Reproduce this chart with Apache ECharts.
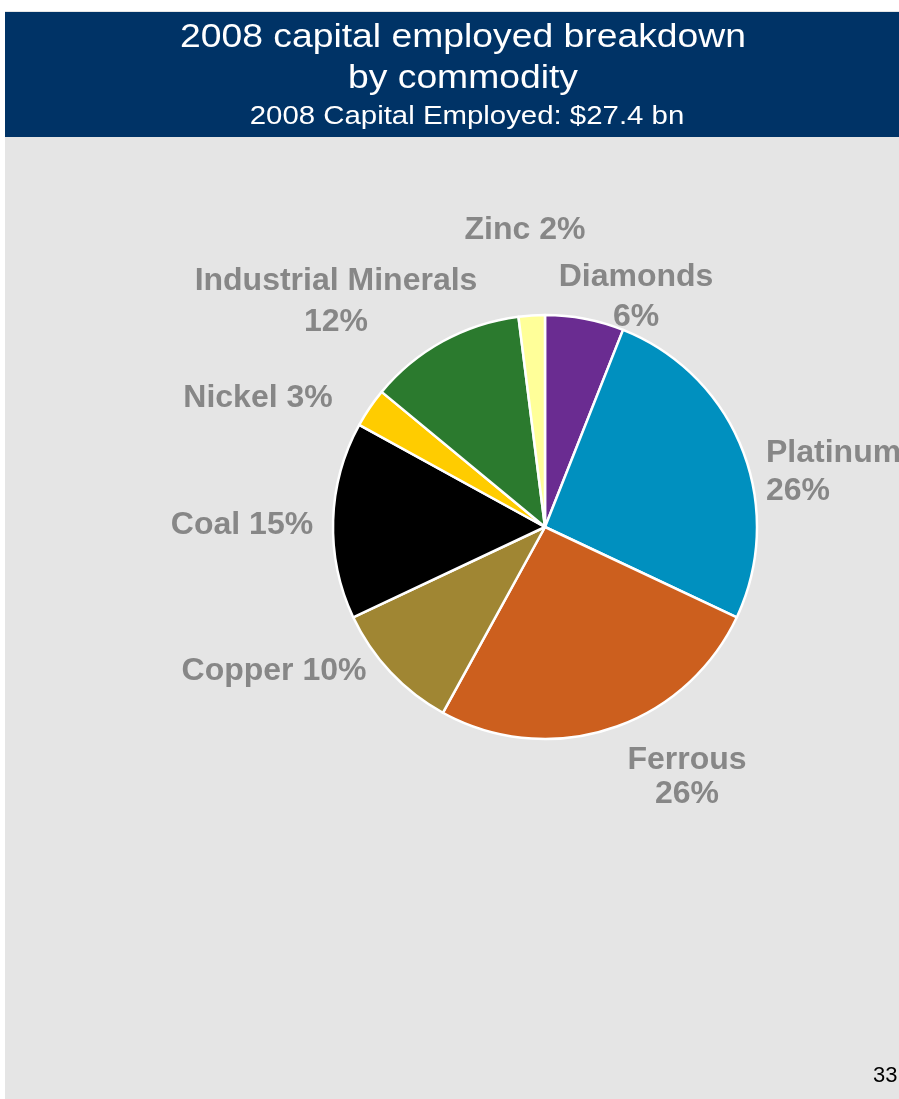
<!DOCTYPE html>
<html>
<head>
<meta charset="utf-8">
<script src="https://cdn.jsdelivr.net/npm/echarts@6/dist/echarts.min.js"></script>
<style>
  html, body { margin: 0; padding: 0; background: #ffffff; }
  #chart { width: 899px; height: 1099px; }
</style>
</head>
<body>
<div id="chart"></div>
<script>
// Capital employed by commodity, share of total (%), clockwise from 12 o'clock
const commodities = ['Diamonds', 'Platinum', 'Ferrous', 'Copper', 'Coal', 'Nickel', 'Industrial Minerals', 'Zinc'];
const sharePct = [6, 26, 26, 10, 15, 3, 12, 2];
const sliceColors = ['#6a2c91', '#0090bf', '#cc5f1e', '#a08633', '#000000', '#ffcc00', '#2b7a2e', '#ffff99'];
// separator between name and value in each label
const labelSep = ['\n', '\n', '\n', ' ', ' ', ' ', '\n', ' '];
// label anchor [x, y, align, lineHeight] for each slice
const labelPos = [
  [636, 297, 'center', 40],
  [766, 472, 'left', 38],
  [687, 777, 'center', 34],
  [274, 671, 'center', 40],
  [242, 525, 'center', 40],
  [258, 398, 'center', 40],
  [336, 302, 'center', 41],
  [525, 230, 'center', 40]
];

const titleLines = ['2008 capital employed breakdown', 'by commodity'];
const subTitle = '2008 Capital Employed: $27.4 bn';
const pageNo = '33';

const headFont = '"Liberation Sans", Arial, sans-serif';

const chart = echarts.init(document.getElementById('chart'), null, { renderer: 'canvas' });

chart.setOption({
  backgroundColor: '#ffffff',
  animation: false,
  graphic: [
    { type: 'rect', z: 0, silent: true, shape: { x: 5, y: 11, width: 894, height: 1088 }, style: { fill: '#e5e5e5' } },
    { type: 'rect', z: 1, silent: true, shape: { x: 5, y: 12, width: 894, height: 125 }, style: { fill: '#003366' } },
    { type: 'text', z: 2, silent: true, x: 463, y: 38, scaleX: 1.13,
      style: { x: 0, y: 0, text: titleLines[0], fill: '#ffffff', font: '33px ' + headFont, textAlign: 'center', textVerticalAlign: 'middle' } },
    { type: 'text', z: 2, silent: true, x: 463, y: 79, scaleX: 1.13,
      style: { x: 0, y: 0, text: titleLines[1], fill: '#ffffff', font: '33px ' + headFont, textAlign: 'center', textVerticalAlign: 'middle' } },
    { type: 'text', z: 2, silent: true, x: 467, y: 117, scaleX: 1.13,
      style: { x: 0, y: 0, text: subTitle, fill: '#ffffff', font: '26px ' + headFont, textAlign: 'center', textVerticalAlign: 'middle' } },
    { type: 'text', z: 2, silent: true,
      style: { x: 873, y: 1076, text: pageNo, fill: '#000000', font: '22px ' + headFont, textAlign: 'left', textVerticalAlign: 'middle' } }
  ],
  series: [{
    type: 'pie',
    center: [545, 527],
    radius: 212,
    startAngle: 90,
    clockwise: true,
    avoidLabelOverlap: false,
    labelLine: { show: false },
    itemStyle: { borderColor: '#ffffff', borderWidth: 2.5 },
    label: {
      show: true,
      position: 'outside',
      color: '#878787',
      fontFamily: headFont,
      fontWeight: 'bold',
      fontSize: 32,
      formatter: p => p.name + labelSep[p.dataIndex] + p.value + '%'
    },
    labelLayout: params => {
      const lp = labelPos[params.dataIndex];
      return { x: lp[0], y: lp[1], align: lp[2], verticalAlign: 'middle', hideOverlap: false };
    },
    data: commodities.map((name, i) => ({
      name,
      value: sharePct[i],
      itemStyle: { color: sliceColors[i] },
      label: { lineHeight: labelPos[i][3] }
    }))
  }]
});
</script>
</body>
</html>
